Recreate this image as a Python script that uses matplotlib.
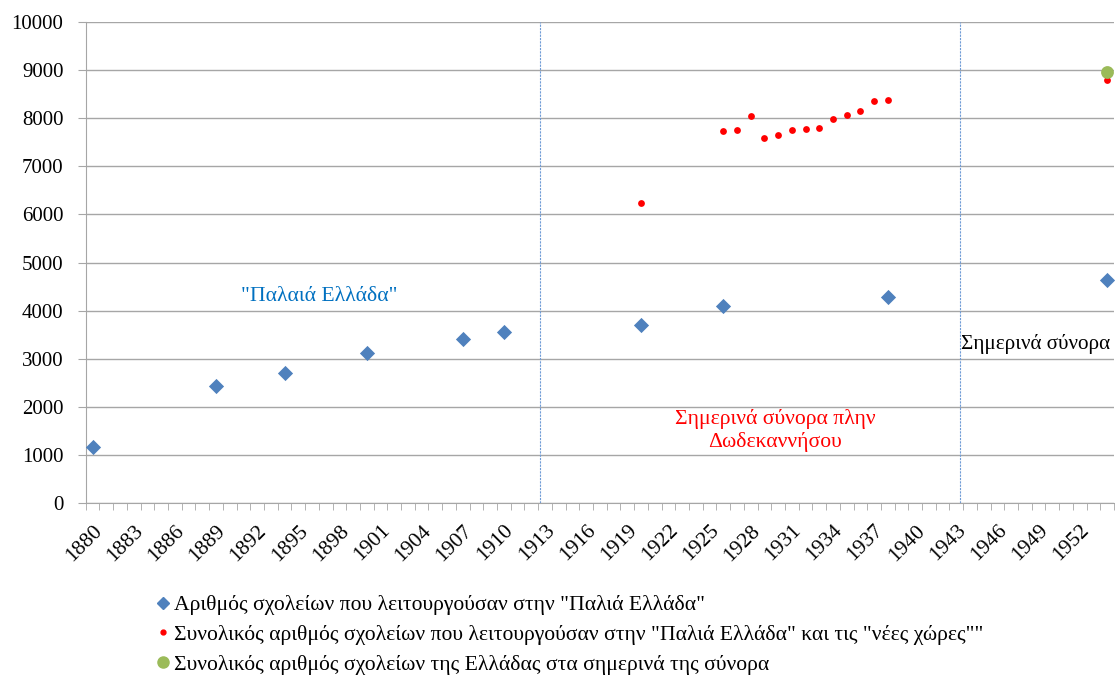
import numpy as np
import matplotlib
matplotlib.use("Agg")
import matplotlib.pyplot as plt
from matplotlib.lines import Line2D

plt.rcParams["font.family"] = "serif"
plt.rcParams["font.serif"] = ["Liberation Serif", "DejaVu Serif"]

# --- data --------------------------------------------------------------
OLD_YEARS = [1880, 1889, 1894, 1900, 1907, 1910, 1920, 1926, 1938, 1954]
OLD_SCHOOLS = [1170, 2430, 2705, 3120, 3420, 3555, 3695, 4095, 4275, 4630]

NEW_YEARS = [1920, 1926, 1927, 1928, 1929, 1930, 1931, 1932, 1933, 1934,
             1935, 1936, 1937, 1938, 1954]
NEW_SCHOOLS = [6230, 7730, 7765, 8040, 7590, 7660, 7765, 7780, 7790, 7980,
               8060, 8150, 8355, 8370, 8805]

TODAY_YEARS = [1954]
TODAY_SCHOOLS = [8965]

FIRST_YEAR, LAST_YEAR = 1880, 1954
LABEL_STEP = 3
BORDER_LINES = [1912.6, 1943.3]

LEGEND_LABELS = [
    'Αριθμός σχολείων που λειτουργούσαν στην "Παλιά Ελλάδα"',
    'Συνολικός αριθμός σχολείων που λειτουργούσαν στην "Παλιά Ελλάδα" και τις "νέες χώρες""',
    'Συνολικός αριθμός σχολείων της Ελλάδας στα σημερινά της σύνορα',
]

BLUE = "#4F81BD"
RED = "#FF0000"
GREEN = "#9BBB59"
GRID = "#A6A6A6"

fig = plt.figure(figsize=(11.15, 6.79), dpi=100)
ax = fig.add_axes([0.0769, 0.2589, 0.9222, 0.7087])

ax.scatter(OLD_YEARS, OLD_SCHOOLS, marker="D", s=60, color=BLUE, zorder=3,
           linewidths=0)
ax.scatter(NEW_YEARS, NEW_SCHOOLS, marker="o", s=24, color=RED, zorder=4,
           linewidths=0)
ax.scatter(TODAY_YEARS, TODAY_SCHOOLS, marker="o", s=85, color=GREEN,
           zorder=5, linewidths=0)

for x in BORDER_LINES:
    ax.axvline(x, color="#6E9BD6", linewidth=0.8, linestyle=(0, (2, 1)),
               zorder=2)

# axes look (Excel style)
ax.set_xlim(FIRST_YEAR - 0.5, LAST_YEAR + 0.5)
ax.set_ylim(0, 10000)
ax.set_yticks(np.arange(0, 10001, 1000))
ax.yaxis.grid(True, color=GRID, linewidth=1)
ax.set_axisbelow(True)
for side in ["top", "right"]:
    ax.spines[side].set_visible(False)
ax.spines["left"].set_color(GRID)
ax.spines["bottom"].set_color(GRID)
ax.tick_params(axis="y", length=6, color=GRID, labelsize=15, pad=10)

label_years = np.arange(FIRST_YEAR, LAST_YEAR, LABEL_STEP)
ax.set_xticks(label_years)
ax.set_xticklabels([str(y) for y in label_years], rotation=45, ha="right",
                   rotation_mode="anchor", fontsize=15.5)
ax.set_xticks(np.arange(FIRST_YEAR - 0.5, LAST_YEAR + 1), minor=True)
ax.tick_params(axis="x", which="major", length=0, pad=13)
ax.tick_params(axis="x", which="minor", length=5, color=GRID)

# region labels
ax.text(1896.5, 4300, '"Παλαιά Ελλάδα"', color="#0070C0", fontsize=15.6,
        ha="center", va="center")
ax.text(1929.8, 1510, "Σημερινά σύνορα πλην\nΔωδεκαννήσου", color=RED,
        fontsize=15.6, ha="center", va="center", linespacing=1.25)
ax.text(1943.35, 3300, "Σημερινά σύνορα", color="black", fontsize=15.2,
        ha="left", va="center")

handles = [
    Line2D([], [], marker="D", linestyle="none", color=BLUE, markersize=6),
    Line2D([], [], marker="o", linestyle="none", color=RED, markersize=3.5),
    Line2D([], [], marker="o", linestyle="none", color=GREEN, markersize=8),
]
fig.legend(handles, LEGEND_LABELS, loc="upper left",
           bbox_to_anchor=(0.1404, 0.1237), frameon=False, fontsize=15.6,
           handlelength=0.6, handletextpad=0.2, labelspacing=0.44,
           borderaxespad=0, borderpad=0)

fig.savefig("out.png", dpi=100)
